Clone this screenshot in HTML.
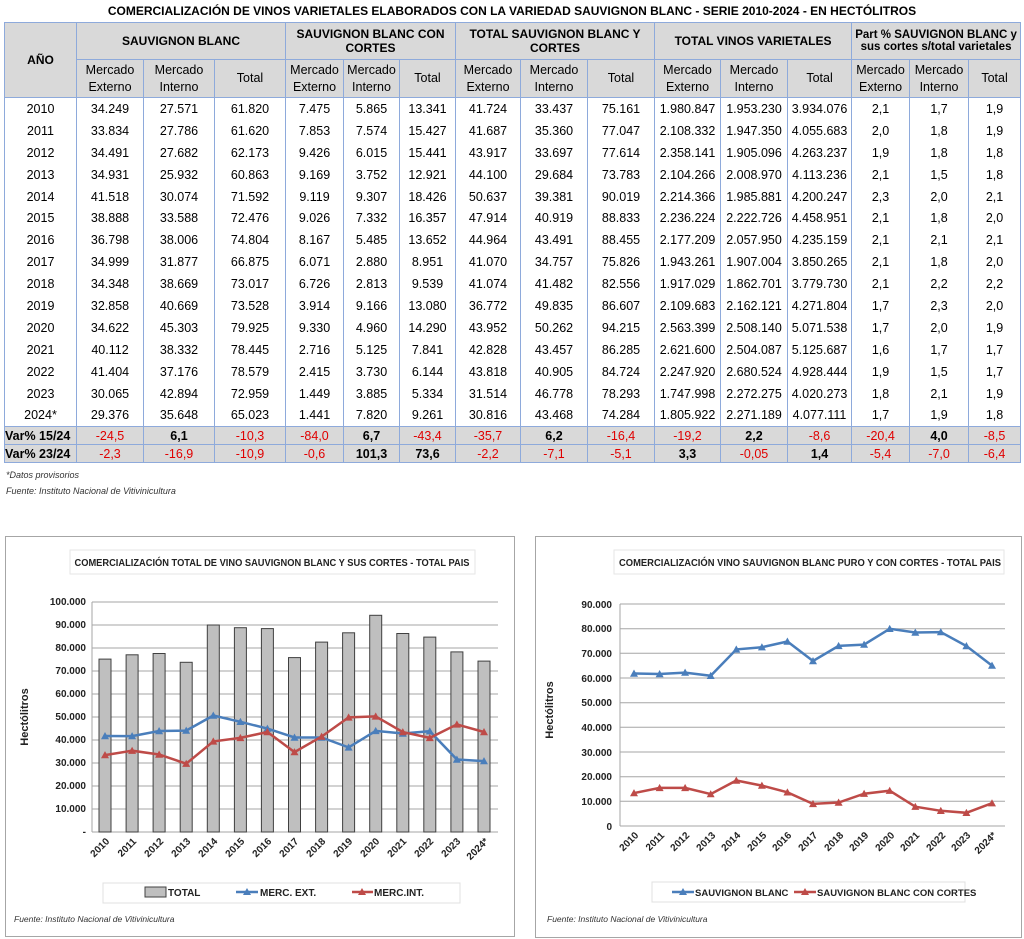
<!DOCTYPE html>
<html><head><meta charset="utf-8"><style>
body{margin:0;width:1024px;height:939px;background:#fff;position:relative;font-family:"Liberation Sans",sans-serif;overflow:hidden}
.ttl{position:absolute;left:0;width:1024px;top:4px;text-align:center;font-weight:bold;font-size:12px;}
table{position:absolute;left:4px;top:22px;border-collapse:collapse;table-layout:fixed;width:1016px;font-size:12.5px}
td{border-left:1.5px solid #8eaadb;border-right:1.5px solid #8eaadb;text-align:center;padding:0;white-space:nowrap;overflow:hidden}
tr.h td{background:#d9d9d9;font-weight:bold;border:1.5px solid #8eaadb;font-size:12px}
tr.h2 td{font-weight:normal;font-size:12.5px;line-height:17px}
tr.d td{height:21.9px}
tr.v td{background:#d9d9d9;border:1.5px solid #8eaadb;height:17px;font-size:12.5px}
.r{color:#e00000}.b{font-weight:bold}
.note{position:absolute;left:6px;font-style:italic;font-size:9px;color:#333}
</style></head><body>
<div class="ttl">COMERCIALIZACIÓN DE VINOS VARIETALES ELABORADOS CON LA VARIEDAD SAUVIGNON BLANC - SERIE 2010-2024 - EN HECTÓLITROS</div>
<table>
<colgroup><col style="width:72px"><col style="width:67px"><col style="width:71px"><col style="width:71px"><col style="width:58px"><col style="width:56px"><col style="width:56px"><col style="width:65px"><col style="width:67px"><col style="width:67px"><col style="width:66px"><col style="width:67px"><col style="width:64px"><col style="width:58px"><col style="width:59px"><col style="width:52px"></colgroup>
<tr class="h" style="height:37px"><td rowspan="2">AÑO</td><td colspan="3">SAUVIGNON BLANC</td><td colspan="3">SAUVIGNON BLANC CON<br>CORTES</td><td colspan="3">TOTAL SAUVIGNON BLANC Y<br>CORTES</td><td colspan="3">TOTAL VINOS VARIETALES</td><td colspan="3" style="font-size:11.5px">Part % SAUVIGNON BLANC y<br>sus cortes s/total varietales</td></tr>
<tr class="h h2" style="height:38px"><td>Mercado<br>Externo</td><td>Mercado<br>Interno</td><td>Total</td><td>Mercado<br>Externo</td><td>Mercado<br>Interno</td><td>Total</td><td>Mercado<br>Externo</td><td>Mercado<br>Interno</td><td>Total</td><td>Mercado<br>Externo</td><td>Mercado<br>Interno</td><td>Total</td><td>Mercado<br>Externo</td><td>Mercado<br>Interno</td><td>Total</td></tr>
<tr class="d"><td>2010</td><td>34.249</td><td>27.571</td><td>61.820</td><td>7.475</td><td>5.865</td><td>13.341</td><td>41.724</td><td>33.437</td><td>75.161</td><td>1.980.847</td><td>1.953.230</td><td>3.934.076</td><td>2,1</td><td>1,7</td><td>1,9</td></tr>
<tr class="d"><td>2011</td><td>33.834</td><td>27.786</td><td>61.620</td><td>7.853</td><td>7.574</td><td>15.427</td><td>41.687</td><td>35.360</td><td>77.047</td><td>2.108.332</td><td>1.947.350</td><td>4.055.683</td><td>2,0</td><td>1,8</td><td>1,9</td></tr>
<tr class="d"><td>2012</td><td>34.491</td><td>27.682</td><td>62.173</td><td>9.426</td><td>6.015</td><td>15.441</td><td>43.917</td><td>33.697</td><td>77.614</td><td>2.358.141</td><td>1.905.096</td><td>4.263.237</td><td>1,9</td><td>1,8</td><td>1,8</td></tr>
<tr class="d"><td>2013</td><td>34.931</td><td>25.932</td><td>60.863</td><td>9.169</td><td>3.752</td><td>12.921</td><td>44.100</td><td>29.684</td><td>73.783</td><td>2.104.266</td><td>2.008.970</td><td>4.113.236</td><td>2,1</td><td>1,5</td><td>1,8</td></tr>
<tr class="d"><td>2014</td><td>41.518</td><td>30.074</td><td>71.592</td><td>9.119</td><td>9.307</td><td>18.426</td><td>50.637</td><td>39.381</td><td>90.019</td><td>2.214.366</td><td>1.985.881</td><td>4.200.247</td><td>2,3</td><td>2,0</td><td>2,1</td></tr>
<tr class="d"><td>2015</td><td>38.888</td><td>33.588</td><td>72.476</td><td>9.026</td><td>7.332</td><td>16.357</td><td>47.914</td><td>40.919</td><td>88.833</td><td>2.236.224</td><td>2.222.726</td><td>4.458.951</td><td>2,1</td><td>1,8</td><td>2,0</td></tr>
<tr class="d"><td>2016</td><td>36.798</td><td>38.006</td><td>74.804</td><td>8.167</td><td>5.485</td><td>13.652</td><td>44.964</td><td>43.491</td><td>88.455</td><td>2.177.209</td><td>2.057.950</td><td>4.235.159</td><td>2,1</td><td>2,1</td><td>2,1</td></tr>
<tr class="d"><td>2017</td><td>34.999</td><td>31.877</td><td>66.875</td><td>6.071</td><td>2.880</td><td>8.951</td><td>41.070</td><td>34.757</td><td>75.826</td><td>1.943.261</td><td>1.907.004</td><td>3.850.265</td><td>2,1</td><td>1,8</td><td>2,0</td></tr>
<tr class="d"><td>2018</td><td>34.348</td><td>38.669</td><td>73.017</td><td>6.726</td><td>2.813</td><td>9.539</td><td>41.074</td><td>41.482</td><td>82.556</td><td>1.917.029</td><td>1.862.701</td><td>3.779.730</td><td>2,1</td><td>2,2</td><td>2,2</td></tr>
<tr class="d"><td>2019</td><td>32.858</td><td>40.669</td><td>73.528</td><td>3.914</td><td>9.166</td><td>13.080</td><td>36.772</td><td>49.835</td><td>86.607</td><td>2.109.683</td><td>2.162.121</td><td>4.271.804</td><td>1,7</td><td>2,3</td><td>2,0</td></tr>
<tr class="d"><td>2020</td><td>34.622</td><td>45.303</td><td>79.925</td><td>9.330</td><td>4.960</td><td>14.290</td><td>43.952</td><td>50.262</td><td>94.215</td><td>2.563.399</td><td>2.508.140</td><td>5.071.538</td><td>1,7</td><td>2,0</td><td>1,9</td></tr>
<tr class="d"><td>2021</td><td>40.112</td><td>38.332</td><td>78.445</td><td>2.716</td><td>5.125</td><td>7.841</td><td>42.828</td><td>43.457</td><td>86.285</td><td>2.621.600</td><td>2.504.087</td><td>5.125.687</td><td>1,6</td><td>1,7</td><td>1,7</td></tr>
<tr class="d"><td>2022</td><td>41.404</td><td>37.176</td><td>78.579</td><td>2.415</td><td>3.730</td><td>6.144</td><td>43.818</td><td>40.905</td><td>84.724</td><td>2.247.920</td><td>2.680.524</td><td>4.928.444</td><td>1,9</td><td>1,5</td><td>1,7</td></tr>
<tr class="d"><td>2023</td><td>30.065</td><td>42.894</td><td>72.959</td><td>1.449</td><td>3.885</td><td>5.334</td><td>31.514</td><td>46.778</td><td>78.293</td><td>1.747.998</td><td>2.272.275</td><td>4.020.273</td><td>1,8</td><td>2,1</td><td>1,9</td></tr>
<tr class="d"><td>2024*</td><td>29.376</td><td>35.648</td><td>65.023</td><td>1.441</td><td>7.820</td><td>9.261</td><td>30.816</td><td>43.468</td><td>74.284</td><td>1.805.922</td><td>2.271.189</td><td>4.077.111</td><td>1,7</td><td>1,9</td><td>1,8</td></tr>
<tr class="v"><td class="b" style="text-align:left">Var% 15/24</td><td class="r">-24,5</td><td class="b">6,1</td><td class="r">-10,3</td><td class="r">-84,0</td><td class="b">6,7</td><td class="r">-43,4</td><td class="r">-35,7</td><td class="b">6,2</td><td class="r">-16,4</td><td class="r">-19,2</td><td class="b">2,2</td><td class="r">-8,6</td><td class="r">-20,4</td><td class="b">4,0</td><td class="r">-8,5</td></tr>
<tr class="v"><td class="b" style="text-align:left">Var% 23/24</td><td class="r">-2,3</td><td class="r">-16,9</td><td class="r">-10,9</td><td class="r">-0,6</td><td class="b">101,3</td><td class="b">73,6</td><td class="r">-2,2</td><td class="r">-7,1</td><td class="r">-5,1</td><td class="b">3,3</td><td class="r">-0,05</td><td class="b">1,4</td><td class="r">-5,4</td><td class="r">-7,0</td><td class="r">-6,4</td></tr>
</table>
<div class="note" style="top:470px">*Datos provisorios</div>
<div class="note" style="top:486px">Fuente: Instituto Nacional de Vitivinicultura</div>

<svg width="1024" height="939" style="position:absolute;left:0;top:0" font-family="Liberation Sans, sans-serif">
<defs>
<marker id="tb" viewBox="0 0 10 10" refX="5" refY="5" markerUnits="userSpaceOnUse" markerWidth="8" markerHeight="8"><path d="M5 0L10 9H0Z" fill="#4a7ebb"/></marker>
<marker id="tr" viewBox="0 0 10 10" refX="5" refY="5" markerUnits="userSpaceOnUse" markerWidth="8" markerHeight="8"><path d="M5 0L10 9H0Z" fill="#be4b48"/></marker>
</defs>
<!-- left chart -->
<rect x="5.5" y="536.5" width="509" height="400" fill="#fff" stroke="#a6a6a6"/>
<rect x="70" y="550" width="405" height="24" fill="#fff" stroke="#e6e6e6"/>
<text x="272" y="566" font-size="10" font-weight="bold" text-anchor="middle" fill="#222" textLength="395" lengthAdjust="spacingAndGlyphs">COMERCIALIZACIÓN TOTAL DE VINO SAUVIGNON BLANC Y SUS CORTES - TOTAL PAIS</text>
<g stroke="#a6a6a6" stroke-width="1">
<line x1="92" x2="498" y1="832" y2="832"/><line x1="92" x2="498" y1="809" y2="809"/><line x1="92" x2="498" y1="786" y2="786"/><line x1="92" x2="498" y1="763" y2="763"/><line x1="92" x2="498" y1="740" y2="740"/><line x1="92" x2="498" y1="717" y2="717"/><line x1="92" x2="498" y1="694" y2="694"/><line x1="92" x2="498" y1="671" y2="671"/><line x1="92" x2="498" y1="648" y2="648"/><line x1="92" x2="498" y1="625" y2="625"/><line x1="92" x2="498" y1="602" y2="602"/>
<line x1="92" x2="92" y1="602" y2="832"/>
</g>
<g font-size="10" font-weight="bold" text-anchor="end" fill="#222">
<text x="86" y="835">-</text><text x="86" y="812">10.000</text><text x="86" y="789">20.000</text><text x="86" y="766">30.000</text><text x="86" y="743">40.000</text><text x="86" y="720">50.000</text><text x="86" y="697">60.000</text><text x="86" y="674">70.000</text><text x="86" y="651">80.000</text><text x="86" y="628">90.000</text><text x="86" y="605">100.000</text>
</g>
<text transform="translate(28,717) rotate(-90)" font-size="11" font-weight="bold" text-anchor="middle" fill="#222">Hectólitros</text>
<g fill="#bfbfbf" stroke="#404040" stroke-width="1">
<rect x="99" y="659.1" width="12" height="172.9"/><rect x="126.1" y="654.8" width="12" height="177.2"/><rect x="153.1" y="653.5" width="12" height="178.5"/><rect x="180.2" y="662.3" width="12" height="169.7"/><rect x="207.3" y="625" width="12" height="207"/><rect x="234.4" y="627.7" width="12" height="204.3"/><rect x="261.4" y="628.6" width="12" height="203.4"/><rect x="288.5" y="657.6" width="12" height="174.4"/><rect x="315.6" y="642.1" width="12" height="189.9"/><rect x="342.6" y="632.8" width="12" height="199.2"/><rect x="369.7" y="615.3" width="12" height="216.7"/><rect x="396.8" y="633.5" width="12" height="198.5"/><rect x="423.8" y="637.1" width="12" height="194.9"/><rect x="450.9" y="651.9" width="12" height="180.1"/><rect x="478" y="661.1" width="12" height="170.9"/>
</g>
<polyline fill="none" stroke="#4a7ebb" stroke-width="2.5" marker-start="url(#tb)" marker-mid="url(#tb)" marker-end="url(#tb)" points="105,736 132.1,736.1 159.1,731 186.2,730.6 213.3,715.5 240.4,721.8 267.4,728.6 294.5,737.5 321.6,737.5 348.6,747.4 375.7,730.9 402.8,733.5 429.8,731.2 456.9,759.5 484,761.1"/>
<polyline fill="none" stroke="#be4b48" stroke-width="2.5" marker-start="url(#tr)" marker-mid="url(#tr)" marker-end="url(#tr)" points="105,755.1 132.1,750.7 159.1,754.5 186.2,763.7 213.3,741.4 240.4,737.9 267.4,732 294.5,752.1 321.6,736.6 348.6,717.4 375.7,716.4 402.8,732.1 429.8,737.9 456.9,724.4 484,732"/>
<g font-size="10" font-weight="bold" text-anchor="end" fill="#222">
<text transform="translate(110,842) rotate(-45)">2010</text><text transform="translate(137,842) rotate(-45)">2011</text><text transform="translate(164,842) rotate(-45)">2012</text><text transform="translate(191,842) rotate(-45)">2013</text><text transform="translate(218,842) rotate(-45)">2014</text><text transform="translate(245,842) rotate(-45)">2015</text><text transform="translate(272,842) rotate(-45)">2016</text><text transform="translate(299,842) rotate(-45)">2017</text><text transform="translate(326,842) rotate(-45)">2018</text><text transform="translate(353,842) rotate(-45)">2019</text><text transform="translate(380,842) rotate(-45)">2020</text><text transform="translate(407,842) rotate(-45)">2021</text><text transform="translate(434,842) rotate(-45)">2022</text><text transform="translate(461,842) rotate(-45)">2023</text><text transform="translate(489,842) rotate(-45)">2024*</text>
</g>
<rect x="103" y="883" width="357" height="20" fill="#fff" stroke="#e0e0e0"/>
<rect x="145" y="887" width="21" height="10" fill="#bfbfbf" stroke="#404040"/>
<text x="168" y="896" font-size="10" font-weight="bold" fill="#222">TOTAL</text>
<line x1="236" x2="258" y1="892" y2="892" stroke="#4a7ebb" stroke-width="2.5"/><path d="M247 888L251 895H243Z" fill="#4a7ebb"/>
<text x="260" y="896" font-size="10" font-weight="bold" fill="#222">MERC. EXT.</text>
<line x1="352" x2="373" y1="892" y2="892" stroke="#be4b48" stroke-width="2.5"/><path d="M362 888L366 895H358Z" fill="#be4b48"/>
<text x="374" y="896" font-size="10" font-weight="bold" fill="#222">MERC.INT.</text>
<text x="14" y="922" font-size="8.5" font-style="italic" fill="#333">Fuente: Instituto Nacional de Vitivinicultura</text>

<!-- right chart -->
<rect x="535.5" y="536.5" width="486" height="401" fill="#fff" stroke="#a6a6a6"/>
<rect x="614" y="550" width="390" height="24" fill="#fff" stroke="#e6e6e6"/>
<text x="810" y="566" font-size="10" font-weight="bold" text-anchor="middle" fill="#222" textLength="382" lengthAdjust="spacingAndGlyphs">COMERCIALIZACIÓN VINO SAUVIGNON  BLANC PURO Y CON CORTES - TOTAL PAIS</text>
<g stroke="#a6a6a6" stroke-width="1">
<line x1="620" x2="1005" y1="826" y2="826"/><line x1="620" x2="1005" y1="801.3" y2="801.3"/><line x1="620" x2="1005" y1="776.7" y2="776.7"/><line x1="620" x2="1005" y1="752" y2="752"/><line x1="620" x2="1005" y1="727.3" y2="727.3"/><line x1="620" x2="1005" y1="702.7" y2="702.7"/><line x1="620" x2="1005" y1="678" y2="678"/><line x1="620" x2="1005" y1="653.3" y2="653.3"/><line x1="620" x2="1005" y1="628.7" y2="628.7"/><line x1="620" x2="1005" y1="604" y2="604"/>
<line x1="620" x2="620" y1="604" y2="826"/>
</g>
<g font-size="10" font-weight="bold" text-anchor="end" fill="#222">
<text x="612" y="830">0</text><text x="612" y="805">10.000</text><text x="612" y="780">20.000</text><text x="612" y="756">30.000</text><text x="612" y="731">40.000</text><text x="612" y="706">50.000</text><text x="612" y="682">60.000</text><text x="612" y="657">70.000</text><text x="612" y="632">80.000</text><text x="612" y="608">90.000</text>
</g>
<text transform="translate(553,710) rotate(-90)" font-size="11" font-weight="bold" text-anchor="middle" fill="#222">Hectólitros</text>
<polyline fill="none" stroke="#4a7ebb" stroke-width="2.5" marker-start="url(#tb)" marker-mid="url(#tb)" marker-end="url(#tb)" points="634,673.5 659.6,674 685.1,672.6 710.7,675.8 736.3,649.4 761.9,647.2 787.4,641.5 813,661 838.6,645.9 864.1,644.6 889.7,628.8 915.3,632.5 940.8,632.1 966.4,646 992,665.6"/>
<polyline fill="none" stroke="#be4b48" stroke-width="2.5" marker-start="url(#tr)" marker-mid="url(#tr)" marker-end="url(#tr)" points="634,793.1 659.6,787.9 685.1,787.9 710.7,794.1 736.3,780.5 761.9,785.6 787.4,792.3 813,803.9 838.6,802.5 864.1,793.7 889.7,790.7 915.3,806.7 940.8,810.8 966.4,812.8 992,803.2"/>
<g font-size="10" font-weight="bold" text-anchor="end" fill="#222">
<text transform="translate(639,836) rotate(-45)">2010</text><text transform="translate(665,836) rotate(-45)">2011</text><text transform="translate(690,836) rotate(-45)">2012</text><text transform="translate(716,836) rotate(-45)">2013</text><text transform="translate(741,836) rotate(-45)">2014</text><text transform="translate(767,836) rotate(-45)">2015</text><text transform="translate(792,836) rotate(-45)">2016</text><text transform="translate(818,836) rotate(-45)">2017</text><text transform="translate(844,836) rotate(-45)">2018</text><text transform="translate(869,836) rotate(-45)">2019</text><text transform="translate(895,836) rotate(-45)">2020</text><text transform="translate(920,836) rotate(-45)">2021</text><text transform="translate(946,836) rotate(-45)">2022</text><text transform="translate(971,836) rotate(-45)">2023</text><text transform="translate(997,836) rotate(-45)">2024*</text>
</g>
<rect x="652" y="882" width="313" height="20" fill="#fff" stroke="#e0e0e0"/>
<line x1="672" x2="694" y1="892" y2="892" stroke="#4a7ebb" stroke-width="2.5"/><path d="M683 888L687 895H679Z" fill="#4a7ebb"/>
<text x="695" y="896" font-size="9.5" font-weight="bold" fill="#222">SAUVIGNON BLANC</text>
<line x1="794" x2="816" y1="892" y2="892" stroke="#be4b48" stroke-width="2.5"/><path d="M805 888L809 895H801Z" fill="#be4b48"/>
<text x="817" y="896" font-size="9.5" font-weight="bold" fill="#222">SAUVIGNON BLANC CON CORTES</text>
<text x="547" y="922" font-size="8.5" font-style="italic" fill="#333">Fuente: Instituto Nacional de Vitivinicultura</text>
</svg>
</body></html>
